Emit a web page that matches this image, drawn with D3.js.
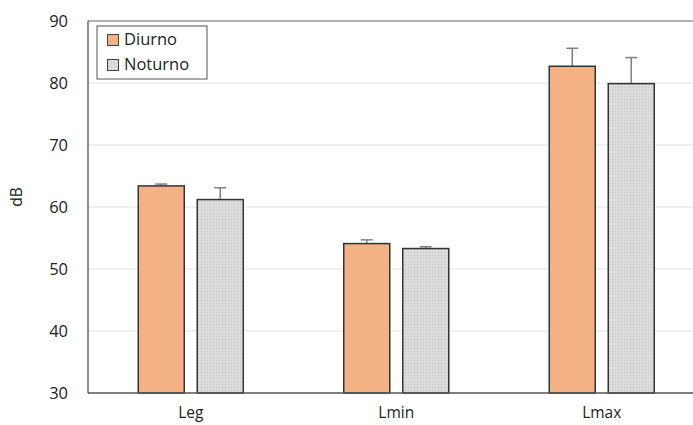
<!DOCTYPE html>
<html><head><meta charset="utf-8">
<script src="https://cdn.jsdelivr.net/npm/d3@7/dist/d3.min.js"></script>
<style>body{margin:0;background:#fff}svg{display:block}text{font-family:"Open Sans",sans-serif;fill:#222}</style>
</head><body><svg id="c" width="693" height="425"></svg>
<script>
const categories = ["Leg", "Lmin", "Lmax"];
const seriesNames = ["Diurno", "Noturno"];
const diurno = [63.4, 54.1, 82.7];
const noturno = [61.2, 53.3, 79.9];
const diurnoErr = [0.3, 0.6, 2.9];
const noturnoErr = [1.9, 0.3, 4.2];
const yTicks = [30, 40, 50, 60, 70, 80, 90];

(function () {
const svg = d3.select("#c");
const mLeft = 88, mTop = 21, mBottom = 393, mRight = 704.5;
const x = d3.scaleBand().domain(categories).range([mLeft, mRight]).paddingInner(0).paddingOuter(0);
const y = d3.scaleLinear().domain([30, 90]).range([mBottom, mTop]);

const defs = svg.append("defs");
const pat = defs.append("pattern").attr("id", "dots").attr("width", 3).attr("height", 3).attr("patternUnits", "userSpaceOnUse");
pat.append("rect").attr("width", 3).attr("height", 3).attr("fill", "#dadada");
pat.append("rect").attr("x", 0).attr("y", 0).attr("width", 1).attr("height", 1).attr("fill", "#c8c8c8");
pat.append("rect").attr("x", 1.5).attr("y", 1.5).attr("width", 1).attr("height", 1).attr("fill", "#e6e6e6");

// gridlines
svg.append("g").selectAll("line").data(yTicks.filter(t => t > 30 && t < 90)).join("line")
  .attr("x1", mLeft).attr("x2", 693).attr("y1", d => y(d)).attr("y2", d => y(d))
  .attr("stroke", "#e2e2e2").attr("stroke-width", 1);

// frame
svg.append("line").attr("x1", mLeft).attr("x2", 693).attr("y1", mTop).attr("y2", mTop).attr("stroke", "#666").attr("stroke-width", 1.2);
svg.append("line").attr("x1", mLeft).attr("x2", mLeft).attr("y1", mTop).attr("y2", mBottom).attr("stroke", "#444").attr("stroke-width", 1.2);

// y axis tick labels
const yAxis = d3.axisLeft(y).tickValues(yTicks).tickSize(0).tickPadding(20);
const ga = svg.append("g").attr("transform", `translate(${mLeft},0)`).call(yAxis);
ga.select(".domain").remove();
ga.selectAll("text").style("font-family", '"Open Sans",sans-serif').style("font-size", "16.5px").attr("fill", "#222");

svg.append("text").attr("transform", `translate(22,197) rotate(-90)`)
  .attr("text-anchor", "middle").style("font-size", "15.5px").text("dB");

// bars
const barW = 46, gap = 13;
const series = [
  {name: seriesNames[0], vals: diurno, err: diurnoErr, fill: "#F4B183", off: -(gap / 2 + barW)},
  {name: seriesNames[1], vals: noturno, err: noturnoErr, fill: "url(#dots)", off: gap / 2}
];
series.forEach(s => {
  const g = svg.append("g");
  const cx = d => x(d) + x.bandwidth() / 2 + s.off + barW / 2;
  g.selectAll("line.err").data(categories).join("line").attr("class", "err")
    .attr("x1", cx).attr("x2", cx)
    .attr("y1", (d, i) => y(s.vals[i])).attr("y2", (d, i) => y(s.vals[i] + s.err[i]))
    .attr("stroke", "#808080").attr("stroke-width", 1.5);
  g.selectAll("line.cap").data(categories).join("line").attr("class", "cap")
    .attr("x1", d => cx(d) - 6).attr("x2", d => cx(d) + 6)
    .attr("y1", (d, i) => y(s.vals[i] + s.err[i])).attr("y2", (d, i) => y(s.vals[i] + s.err[i]))
    .attr("stroke", "#808080").attr("stroke-width", 1.5);
  g.selectAll("rect").data(categories).join("rect")
    .attr("x", d => x(d) + x.bandwidth() / 2 + s.off)
    .attr("width", barW)
    .attr("y", (d, i) => y(s.vals[i]))
    .attr("height", (d, i) => y(30) - y(s.vals[i]))
    .attr("fill", s.fill).attr("stroke", "#333").attr("stroke-width", 1.5);
});

// bottom axis
svg.append("line").attr("x1", mLeft).attr("x2", 693).attr("y1", mBottom).attr("y2", mBottom).attr("stroke", "#555").attr("stroke-width", 1.3);
const xAxis = d3.axisBottom(x).tickSize(0).tickPadding(14);
const gx = svg.append("g").attr("transform", `translate(0,${mBottom})`).call(xAxis);
gx.select(".domain").remove();
gx.selectAll("text").style("font-family", '"Open Sans",sans-serif').style("font-size", "15.5px").attr("fill", "#222");

// legend
const lg = svg.append("g");
lg.append("rect").attr("x", 97).attr("y", 26).attr("width", 110).attr("height", 53).attr("fill", "#fff").attr("stroke", "#555").attr("stroke-width", 1);
const lf = ["#F4B183", "url(#dots)"];
seriesNames.forEach((n, i) => {
  lg.append("rect").attr("x", 107.5).attr("y", 34.5 + i * 25).attr("width", 11).attr("height", 11)
    .attr("fill", lf[i]).attr("stroke", "#444").attr("stroke-width", 1);
  lg.append("text").attr("x", 124).attr("y", 45 + i * 25).style("font-size", "16.5px").text(n);
});
})();
</script></body></html>
